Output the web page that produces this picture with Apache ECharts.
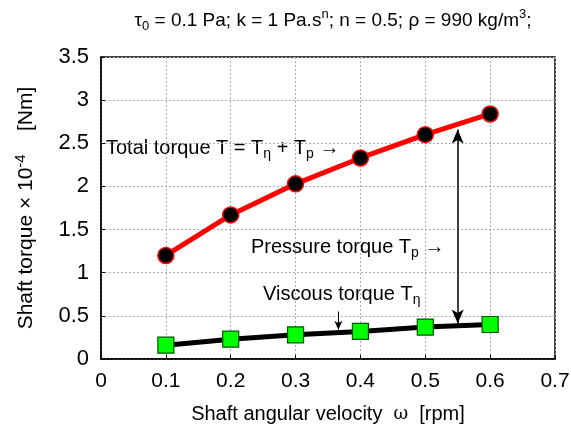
<!DOCTYPE html>
<html>
<head>
<meta charset="utf-8">
<script src="https://cdn.jsdelivr.net/npm/echarts@6/dist/echarts.min.js"></script>
<style>
  html, body { margin: 0; padding: 0; background: #fff; }
  #chart { width: 571px; height: 426px; }
</style>
</head>
<body>
<div id="chart"></div>
<script>
// data
const omega = [0.1, 0.2, 0.3, 0.4, 0.5, 0.6]
const totalTorque = [1.2, 1.67, 2.03, 2.33, 2.6, 2.84]
const viscousTorque = [0.16, 0.23, 0.28, 0.32, 0.37, 0.4]

const pairs = (xs, ys) => xs.map((x, i) => [x, ys[i]])

const font = 'Liberation Sans, Arial, Helvetica, sans-serif'
const sub = { fontSize: 14, verticalAlign: 'bottom', padding: [12, 0, 0, 0], fontFamily: font, color: '#000' }
const sup = { fontSize: 14, verticalAlign: 'top', padding: [0, 0, 12, 0], fontFamily: font, color: '#000' }

const chart = echarts.init(document.getElementById('chart'))

const option = {
  animation: false,
  textStyle: { fontFamily: font },
  title: {
    text: 'τ{sub|0} = 0.1 Pa; k = 1 Pa.s{sup|n}; n = 0.5; ρ = 990 kg/m{sup|3};',
    left: 328,
    textAlign: 'center',
    top: 3,
    textStyle: {
      fontSize: 19, fontWeight: 'normal', color: '#000', fontFamily: font,
      rich: { sub: { ...sub, fontSize: 13 }, sup: { ...sup, fontSize: 13 } }
    }
  },
  grid: {
    left: 101, right: 16, top: 57, bottom: 67,
    outerBoundsMode: 'none',
    show: true, borderColor: '#000', borderWidth: 1.5
  },
  xAxis: {
    type: 'value',
    min: 0, max: 0.7, interval: 0.1,
    name: 'Shaft angular velocity  {w|ω}  [rpm]',
    nameLocation: 'middle',
    nameGap: 45,
    nameTextStyle: { fontSize: 20, color: '#000', rich: { w: { fontFamily: 'DejaVu Serif, serif', fontSize: 18, color: '#000' } } },
    axisLine: { show: true, lineStyle: { color: '#000', width: 1.5 } },
    axisTick: { show: true, inside: true, length: 4, lineStyle: { color: '#000' } },
    axisLabel: { fontSize: 21, color: '#000', margin: 12, formatter: v => String(+v.toFixed(1)) },
    splitLine: { show: true, lineStyle: { color: '#aaa', type: [2, 2], width: 1 } }
  },
  yAxis: {
    type: 'value',
    min: 0, max: 3.5, interval: 0.5,
    name: 'Shaft torque × 10{sup|-4}    [Nm]',
    nameLocation: 'middle',
    nameGap: 61,
    nameTextStyle: { fontSize: 21, color: '#000', rich: { sup: { ...sup, fontSize: 15 } } },
    axisLine: { show: true, lineStyle: { color: '#000', width: 1.5 } },
    axisTick: { show: true, inside: true, length: 4, lineStyle: { color: '#000' } },
    axisLabel: { fontSize: 22, color: '#000', margin: 12 },
    splitLine: { show: true, lineStyle: { color: '#aaa', type: [2, 2], width: 1 } }
  },
  series: [
    {
      name: 'Total torque',
      type: 'line',
      data: pairs(omega, totalTorque),
      symbol: 'circle',
      symbolSize: 16,
      lineStyle: { color: '#ff0000', width: 5 },
      itemStyle: { color: '#000', borderColor: '#ff0000', borderWidth: 1.5 },
      z: 3
    },
    {
      name: 'Viscous torque',
      type: 'line',
      data: pairs(omega, viscousTorque),
      symbol: 'rect',
      symbolSize: 16,
      lineStyle: { color: '#000', width: 5 },
      itemStyle: { color: '#00ff00', borderColor: '#005500', borderWidth: 1.2 },
      z: 3,
      markLine: {
        silent: true,
        symbol: ['arrow', 'arrow'],
        symbolSize: [9, 14],
        label: { show: false },
        lineStyle: { color: '#000', width: 1.5, type: 'solid' },
        data: [
          [{ coord: [0.55, 2.66] }, { coord: [0.55, 0.41] }]
        ]
      }
    },
    {
      // small arrow pointing at the viscous curve
      type: 'line',
      data: [],
      markLine: {
        silent: true,
        symbol: ['none', 'arrow'],
        symbolSize: [6, 9],
        label: { show: false },
        lineStyle: { color: '#000', width: 1, type: 'solid' },
        data: [
          [{ coord: [0.366, 0.55] }, { coord: [0.366, 0.34] }]
        ]
      }
    }
  ],
  graphic: [
    {
      type: 'text', left: 106, top: 138,
      style: {
        text: 'Total torque T = T{sub|η} + T{sub|p} →',
        fontSize: 20, fontFamily: font, fill: '#000',
        rich: { sub: sub }
      }
    },
    {
      type: 'text', left: 251, top: 237,
      style: {
        text: 'Pressure torque T{sub|p} →',
        fontSize: 20, fontFamily: font, fill: '#000',
        rich: { sub: sub }
      }
    },
    {
      type: 'text', left: 263, top: 284,
      style: {
        text: 'Viscous torque T{sub|η}',
        fontSize: 20, fontFamily: font, fill: '#000',
        rich: { sub: sub }
      }
    }
  ]
}

chart.setOption(option)
</script>
</body>
</html>
